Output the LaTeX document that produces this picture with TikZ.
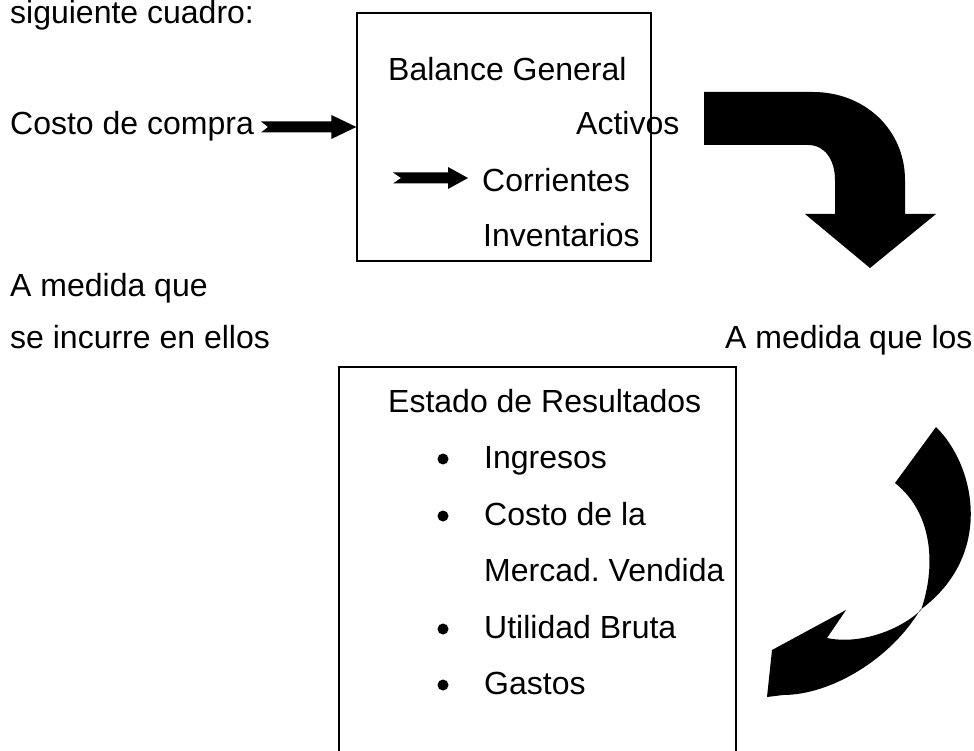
\documentclass[tikz,border=0pt]{standalone}
\usepackage{fontspec}
\setmainfont{Liberation Sans}
\usetikzlibrary{calc}

\begin{document}
\frenchspacing
\begin{tikzpicture}[x=1pt, y=-1pt,
  txt/.style={anchor=base west, inner sep=0pt, font=\fontsize{32}{38}\selectfont},
  frame/.style={rectangle, draw=black, line width=1.3pt},
  dot/.style={circle, fill=black, inner sep=0pt, minimum size=11pt}]
  \useasboundingbox (0,0) rectangle (974,751);

  % Boxes (Balance General and Estado de Resultados)
  \node (balance) [frame, minimum width=294pt, minimum height=248pt] at (504,137) {};
  \node (estado) [frame, minimum width=397pt, minimum height=392pt] at (537.5,563) {};

  % Free texts
  \node (intro) [txt] at (10,24) {siguiente cuadro:};
  \node (costo) [txt] at (10,135) {Costo de compra};
  \node (medida) [txt] at (10,297) {A medida que};
  \node (incurre) [txt] at (10,348) {se incurre en ellos};
  \node (medidalos) [txt] at (725,348) {A medida que los};

  % Texts inside Balance General
  \node (bgtitle) [txt] at (388,81) {Balance General};
  \node (activos) [txt] at (576,135) {Activos};
  \node (corrientes) [txt] at (482,192) {Corrientes};
  \node (inventarios) [txt] at (483,247) {Inventarios};

  % Texts inside Estado de Resultados
  \node (ertitle) [txt] at (388,412) {Estado de Resultados};
  \node (ingresos) [txt] at (484,468) {Ingresos};
  \node (costola) [txt] at (484,525) {Costo de la};
  \node (mercad) [txt] at (484,581) {Mercad. Vendida};
  \node (utilidad) [txt] at (484,638) {Utilidad Bruta};
  \node (gastos) [txt] at (484,694) {Gastos};
  \node (b1) [dot] at (443,459) {};
  \node (b2) [dot] at (443,516) {};
  \node (b3) [dot] at (443,629) {};
  \node (b4) [dot] at (443,685) {};

  % Notched arrows
  \coordinate (costotail) at (261,127);
  \coordinate (costotip) at (balance.west |- costotail);
  \fill ($(costotail)+(0,-5.5)$) -- ($(costotip)+(-25,-5.5)$) -- ($(costotip)+(-25,-12)$) -- (costotip)
    -- ($(costotip)+(-25,12)$) -- ($(costotip)+(-25,5.5)$) -- ($(costotail)+(0,5.5)$) -- ($(costotail)+(7,0)$) -- cycle;
  \coordinate (corrtail) at (393,178);
  \coordinate (corrtip) at (468,178);
  \fill ($(corrtail)+(0,-5.5)$) -- ($(corrtip)+(-20,-5.5)$) -- ($(corrtip)+(-20,-11)$) -- (corrtip)
    -- ($(corrtip)+(-20,11)$) -- ($(corrtip)+(-20,5.5)$) -- ($(corrtail)+(0,5.5)$) -- ($(corrtail)+(8,0)$) -- cycle;

  % Big bent arrow
  \fill (704,92) -- (813,92) .. controls (865,92) and (905,130) .. (905,180) -- (905,214) -- (936,214)
    -- (870,268) -- (805,214) -- (835,214) -- (835,180) .. controls (835,160) and (825,145) .. (808,145)
    -- (704,145) -- cycle;

  % Curved arrow
  \fill (936,427) .. controls (975,465) and (995,555) .. (920,610) .. controls (890,660) and (830,695) .. (783,695)
    -- (767,697) -- (772,650) -- (846,610) -- (827,638) .. controls (860,645) and (900,630) .. (921,610)
    .. controls (935,570) and (935,515) .. (895,483) -- cycle;
\end{tikzpicture}
\end{document}
